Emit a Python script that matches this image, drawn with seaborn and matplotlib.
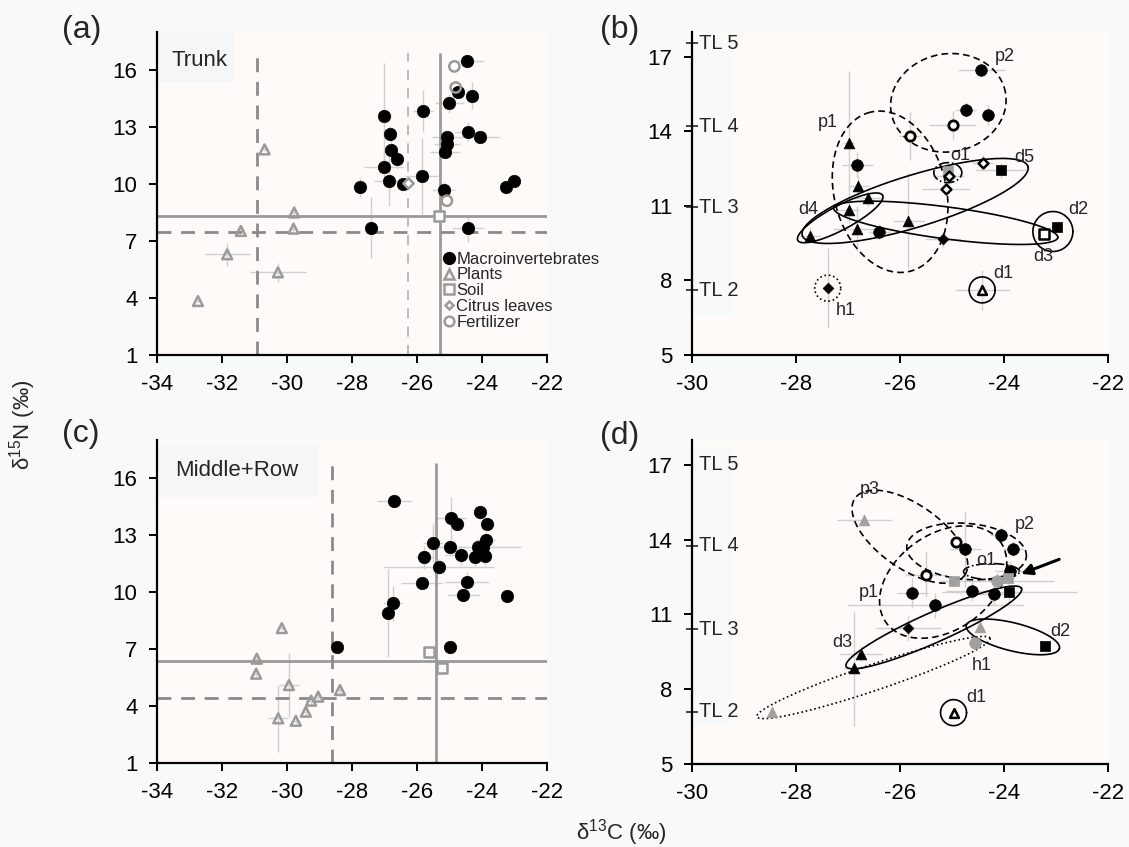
import numpy as np
import matplotlib
matplotlib.use('Agg')
import matplotlib.pyplot as plt
import seaborn as sns
from matplotlib.lines import Line2D
from matplotlib.patches import Rectangle

sns.set_style('ticks')
plt.rcParams['font.family'] = ['Liberation Sans', 'DejaVu Sans']
plt.rcParams['mathtext.fontset'] = 'custom'
plt.rcParams['mathtext.rm'] = 'Liberation Sans'

GRAY = '#9a9a9a'
ERR = '#d0d0d0'

# ---------------- panel (a): Trunk ----------------
a_macro_x = [-24.45, -24.32, -24.74, -25.00, -25.82, -27.00, -26.84, -24.42, -24.07, -25.08, -25.08, -25.14,
             -26.81, -26.62, -27.02, -26.86, -26.42, -25.86, -27.76, -25.18, -23.26, -23.00, -27.40, -24.43]
a_macro_y = [16.47, 14.65, 14.86, 14.26, 13.84, 13.56, 12.65, 12.75, 12.47, 12.45, 12.10, 11.70,
             11.80, 11.33, 10.87, 10.16, 10.02, 10.42, 9.82, 9.70, 9.86, 10.17, 7.70, 7.66]
a_macro_xerr = [0.5, 0.2, 0.2, 0.45, 0.3, 0.2, 0.2, 0.4, 0.62, 0.46, 0.4, 0.45,
                0.2, 0.2, 0.6, 0.45, 0.2, 0.5, 0.2, 0.36, 0.1, 0.1, 0.2, 0.5]
a_macro_yerr = [0.3, 0.7, 0.3, 0.5, 1.1, 2.8, 0.4, 0.5, 0.3, 0.3, 0.3, 0.3,
                0.5, 0.5, 0.7, 1.3, 0.3, 2.0, 0.5, 0.4, 0.2, 0.2, 1.6, 0.7]
a_plant_x = [-30.69, -29.78, -29.80, -31.42, -31.84, -30.28, -32.74]
a_plant_y = [11.82, 8.50, 7.65, 7.53, 6.30, 5.35, 3.84]
a_plant_xerr = [0.1, 0.1, 0.1, 0.1, 0.69, 0.85, 0.05]
a_plant_yerr = [0.1, 0.2, 0.2, 0.1, 0.6, 0.5, 0.05]
a_soil_x, a_soil_y = [-25.31], [8.33]
a_citrus_x, a_citrus_y = [-26.27], [10.03]
a_fert_x = [-24.85, -24.81, -25.08]
a_fert_y = [16.19, 15.08, 9.12]
a_solid_v, a_solid_h = -25.3, 8.33
a_dash_v, a_dash_h = -30.92, 7.45
a_thin_v = -26.27

# ---------------- panel (c): Middle+Row ----------------
c_macro_x = [-26.70, -24.07, -24.94, -24.76, -23.84, -23.89, -25.52, -24.98, -24.11, -23.96, -24.65, -24.22,
             -23.90, -25.77, -25.33, -25.85, -24.46, -24.58, -23.22, -26.75, -26.90, -28.47, -24.98]
c_macro_y = [14.80, 14.20, 13.88, 13.60, 13.60, 12.74, 12.58, 12.38, 12.35, 12.38, 11.93, 11.83,
             11.90, 11.83, 11.34, 10.45, 10.53, 9.85, 9.79, 9.40, 8.90, 7.12, 7.09]
c_macro_xerr = [0.54, 0.2, 0.46, 0.2, 0.2, 0.3, 0.3, 0.3, 1.3, 0.3, 0.5, 0.3,
                0.2, 0.3, 1.7, 0.64, 0.67, 0.51, 0.1, 0.3, 0.2, 0.2, 0.2]
c_macro_yerr = [0.3, 0.4, 1.1, 0.3, 0.3, 0.4, 1.0, 0.4, 0.3, 0.4, 0.5, 0.5,
                0.5, 0.6, 0.4, 0.3, 0.5, 0.3, 0.2, 0.9, 2.3, 0.3, 0.3]
c_plant_x = [-30.16, -30.93, -30.95, -29.94, -30.27, -29.73, -29.42, -29.26, -29.04, -28.37]
c_plant_y = [8.10, 6.49, 5.70, 5.10, 3.35, 3.22, 3.70, 4.28, 4.49, 4.84]
c_plant_xerr = [0.1, 0.1, 0.1, 0.3, 0.3, 0.1, 0.1, 0.2, 0.2, 0.1]
c_plant_yerr = [0.1, 0.1, 0.1, 1.7, 1.75, 0.1, 0.3, 0.3, 0.2, 0.3]
c_soil_x = [-25.62, -25.24]
c_soil_y = [6.82, 6.00]
c_solid_v, c_solid_h = -25.43, 6.38
c_dash_v, c_dash_h = -28.62, 4.42

# ---------------- panel (b) ----------------
b_circ_x = [-24.44, -24.74, -24.30, -26.82, -26.40]
b_circ_y = [16.49, 14.88, 14.65, 12.66, 9.97]
b_circ_xerr = [0.45, 0.2, 0.1, 0.3, 0.2]
b_circ_yerr = [0.2, 0.3, 0.4, 0.5, 0.3]
b_ocirc_x, b_ocirc_y = [-24.99, -25.81], [14.26, 13.83]
b_ocirc_xerr, b_ocirc_yerr = [0.45, 0.2], [0.55, 0.97]
b_tri_x = [-26.99, -26.80, -26.61, -26.99, -27.74, -26.83, -25.84]
b_tri_y = [13.53, 11.79, 11.31, 10.82, 9.80, 10.08, 10.41]
b_tri_xerr = [0.1, 0.2, 0.3, 0.2, 0.2, 0.45, 0.3]
b_tri_yerr = [2.9, 0.4, 0.3, 0.5, 0.3, 0.9, 1.9]
b_otri_x, b_otri_y = [-24.42], [7.62]
b_dia_x, b_dia_y = [-25.17, -27.39], [9.66, 7.69]
b_dia_xerr, b_dia_yerr = [0.34, 0.1], [0.3, 1.6]
b_odia_x, b_odia_y = [-24.41, -25.06, -25.12], [12.73, 12.19, 11.68]
b_odia_xerr, b_odia_yerr = [0.2, 0.3, 0.46], [0.3, 0.3, 0.3]
b_sq_x, b_sq_y = [-24.06, -22.99], [12.43, 10.17]
b_sq_xerr, b_sq_yerr = [0.5, 0.1], [0.3, 0.2]
b_osq_x, b_osq_y = [-23.23], [9.86]
b_gsq_x, b_gsq_y = [-25.07], [12.39]
b_tl = [7.6, 10.95, 14.2, 17.55]

# ---------------- panel (d) ----------------
d_circ_x = [-24.06, -23.82, -24.75, -23.88, -25.76, -24.62, -24.20, -25.32]
d_circ_y = [14.20, 13.63, 13.62, 12.75, 11.85, 11.95, 11.83, 11.36]
d_circ_xerr = [0.2, 0.2, 0.3, 0.3, 0.3, 0.5, 0.4, 1.7]
d_circ_yerr = [0.3, 0.3, 1.5, 0.4, 0.6, 0.4, 0.4, 0.5]
d_ocirc_x, d_ocirc_y = [-24.92, -25.50], [13.90, 12.59]
d_gcirc_x, d_gcirc_y = [-24.14, -24.56], [12.36, 9.87]
d_gsq_x, d_gsq_y = [-24.96, -23.92], [12.36, 12.45]
d_sq_x, d_sq_y = [-23.90, -23.21], [11.90, 9.75]
d_dia_x, d_dia_y = [-25.84], [10.45]
d_gtri_x, d_gtri_y = [-26.69, -24.46, -28.47], [14.80, 10.51, 7.10]
d_tri_x, d_tri_y = [-26.75, -26.88], [9.42, 8.84]
d_otri_x, d_otri_y = [-24.97], [7.06]
d_extra_x = [-25.50, -24.14, -23.90, -26.75, -26.88, -25.84, -26.69]
d_extra_y = [12.59, 12.36, 11.90, 9.42, 8.84, 10.45, 14.80]
d_extra_xerr = [0.4, 1.1, 1.3, 0.4, 0.2, 0.63, 0.53]
d_extra_yerr = [0.9, 0.3, 0.4, 0.3, 2.3, 0.5, 0.2]
d_tl = [7.1, 10.4, 13.75, 17.0]

# ellipses: (cx, cy, semi-a px, semi-b px, angle deg, linestyle)
b_ellipses = [(-25.07, 15.15, 58, 49, 10, '--'), (-26.19, 11.57, 82, 56, 104, '--'),
              (-25.08, 12.34, 14, 10, 0, '-.'), (-27.15, 10.52, 48, 12, 28, '-'),
              (-25.71, 11.2, 118, 26, 17, '-'), (-25.12, 10.32, 113, 16, -7.5, '-'),
              (-23.06, 9.97, 20, 20, 0, '-'), (-24.42, 7.62, 13, 13, 0, '-'),
              (-27.39, 7.69, 13, 13, 0, ':')]
b_labels = [('p2', -23.98, 17.02), ('p1', -27.38, 14.35), ('o1', -24.85, 13.02), ('d5', -23.6, 12.94),
            ('d4', -27.77, 10.85), ('d2', -22.58, 10.85), ('d3', -23.25, 8.95), ('d1', -24.02, 8.27),
            ('h1', -27.04, 6.81)]
d_ellipses = [(-25.81, 14.12, 67, 32, -35, '--'), (-24.72, 13.53, 60, 28, -5, '--'),
              (-24.24, 12.72, 28, 8, 0, '-.'), (-25.17, 12.3, 70, 48, 35, '--'),
              (-25.35, 10.48, 96, 15, 24, '-'), (-23.83, 10.1, 48, 14, -14, '-'),
              (-26.51, 8.47, 123, 13, 18.6, ':'), (-24.97, 7.06, 13, 13, 0, '-')]
d_labels = [('p3', -26.58, 16.0), ('p2', -23.6, 14.6), ('o1', -24.35, 13.16), ('p1', -26.6, 11.87),
            ('d2', -22.92, 10.31), ('d3', -27.1, 9.86), ('h1', -24.43, 8.94), ('d1', -24.54, 7.65)]
d_arrow = ((-22.89, 13.25), (-23.72, 12.59))


def pts(ax, x, y, marker, face, edge, s, xerr=None, yerr=None, lw=1.5, z=5):
    if xerr is not None:
        ax.errorbar(x, y, xerr=xerr, yerr=yerr, fmt='none', ecolor=ERR, elinewidth=1, zorder=1)
    sns.scatterplot(x=x, y=y, marker=marker, s=s, color=edge, facecolor=face,
                    edgecolor=edge, linewidth=lw, ax=ax, zorder=z, legend=False)


def ellipse(ax, cx, cy, a, b, ang, ls):
    t = np.linspace(0, 2 * np.pi, 300)
    th = np.deg2rad(ang)
    dx = a * np.cos(t) * np.cos(th) - b * np.sin(t) * np.sin(th)
    dy = a * np.cos(t) * np.sin(th) + b * np.sin(t) * np.cos(th)
    c = ax.transData.transform((cx, cy))
    p = ax.transData.inverted().transform(np.column_stack([c[0] + dx, c[1] + dy]))
    kw = {'dashes': (4, 2.5)} if ls == '--' else {}
    ax.plot(p[:, 0], p[:, 1], color='black', ls=ls, lw=1.2, zorder=3, **kw)


def style(ax, xlim, ylim, xt, yt):
    ax.set_facecolor('#fdfaf8')
    ax.set_xlim(*xlim)
    ax.set_ylim(*ylim)
    ax.set_xticks(xt)
    ax.set_yticks(yt)
    ax.set_xticklabels([str(v) for v in xt])
    sns.despine(ax=ax)
    for sp in ['left', 'bottom']:
        ax.spines[sp].set_linewidth(1.6)
        ax.spines[sp].set_color('black')
    ax.tick_params(labelsize=16, direction='out', length=6, width=1.4, pad=8, colors='black')
    ax.set_xlabel('')
    ax.set_ylabel('')


fig = plt.figure(figsize=(11.29, 8.47), dpi=100, facecolor='#f8f9f9')
W, H = 1129, 847
ax_a = fig.add_axes([157 / W, 1 - 355 / H, 390 / W, 323 / H])
ax_b = fig.add_axes([692 / W, 1 - 355 / H, 416 / W, 323 / H])
ax_c = fig.add_axes([157 / W, 1 - 763 / H, 390 / W, 323 / H])
ax_d = fig.add_axes([692 / W, 1 - 764 / H, 416 / W, 324 / H])

left_xt = [-34, -32, -30, -28, -26, -24, -22]
right_xt = [-30, -28, -26, -24, -22]
style(ax_a, (-34, -22), (1, 18), left_xt, [1, 4, 7, 10, 13, 16])
style(ax_c, (-34, -22), (1, 18), left_xt, [1, 4, 7, 10, 13, 16])
style(ax_b, (-30, -22), (5, 18), right_xt, [5, 8, 11, 14, 17])
style(ax_d, (-30, -22), (5, 18), right_xt, [5, 8, 11, 14, 17])

# ---- (a)
ax = ax_a
ax.vlines(a_solid_v, 1, 16.9, color=GRAY, lw=2, zorder=2)
ax.axhline(a_solid_h, color=GRAY, lw=2, zorder=2)
ax.vlines(a_dash_v, 1, 16.9, color='#8a8a8a', lw=2, linestyles=(0, (5, 3.5)), zorder=2)
ax.axhline(a_dash_h, color='#8a8a8a', lw=2, ls=(0, (5, 3.5)), zorder=2)
ax.vlines(a_thin_v, 1, 16.9, color='#b0b0b0', lw=1.2, linestyles=(0, (6, 5)), zorder=2)
pts(ax, a_macro_x, a_macro_y, 'o', 'black', 'black', 80, a_macro_xerr, a_macro_yerr, lw=0.5)
pts(ax, a_plant_x, a_plant_y, '^', 'none', GRAY, 50, a_plant_xerr, a_plant_yerr, lw=1.8)
pts(ax, a_soil_x, a_soil_y, 's', '#fdfaf8', GRAY, 60, lw=1.8)
pts(ax, a_citrus_x, a_citrus_y, 'D', '#fdfaf8', GRAY, 28, lw=1.8)
pts(ax, a_fert_x, a_fert_y, 'o', 'none', GRAY, 55, lw=1.8, z=6)
ax.add_patch(Rectangle((0.0025, (355 - 82) / 323), 76 / 390, 52 / 323, transform=ax.transAxes,
                       fc='#f4f6f7', ec='none', zorder=0.5))
ax.text(14 / 390, (355 - 61) / 323, 'Trunk', fontsize=16, va='center', transform=ax.transAxes)
handles = [Line2D([], [], ls='', marker='o', color='black', ms=8.5),
           Line2D([], [], ls='', marker='^', mfc='none', mec=GRAY, mew=1.8, ms=7),
           Line2D([], [], ls='', marker='s', mfc='none', mec=GRAY, mew=1.8, ms=7),
           Line2D([], [], ls='', marker='D', mfc='none', mec=GRAY, mew=1.8, ms=4.5),
           Line2D([], [], ls='', marker='o', mfc='none', mec=GRAY, mew=1.8, ms=7)]
leg = ax.legend(handles, ['Macroinvertebrates', 'Plants', 'Soil', 'Citrus leaves', 'Fertilizer'],
                loc='upper left', bbox_to_anchor=(0.735, 0.32), frameon=False, fontsize=12,
                handlelength=0.6, handletextpad=0.15, labelspacing=0.05, borderpad=0, borderaxespad=0)
leg.set_zorder(7)

# ---- (c)
ax = ax_c
ax.vlines(c_solid_v, 1, 16.8, color=GRAY, lw=2, zorder=2)
ax.axhline(c_solid_h, color=GRAY, lw=2, zorder=2)
ax.vlines(c_dash_v, 1, 16.8, color='#8a8a8a', lw=2, linestyles=(0, (5, 3.5)), zorder=2)
ax.axhline(c_dash_h, color='#8a8a8a', lw=2, ls=(0, (5, 3.5)), zorder=2)
pts(ax, c_macro_x, c_macro_y, 'o', 'black', 'black', 80, c_macro_xerr, c_macro_yerr, lw=0.5)
pts(ax, c_plant_x, c_plant_y, '^', 'none', GRAY, 50, c_plant_xerr, c_plant_yerr, lw=1.8)
pts(ax, c_soil_x, c_soil_y, 's', '#fdfaf8', GRAY, 60, lw=1.8)
ax.add_patch(Rectangle((0.0025, (763 - 497) / 323), 160 / 390, 52 / 323, transform=ax.transAxes,
                       fc='#f4f6f7', ec='none', zorder=0.5))
ax.text(18 / 390, (763 - 470) / 323, 'Middle+Row', fontsize=16, va='center', transform=ax.transAxes)

# ---- (b)
ax = ax_b
pts(ax, b_circ_x, b_circ_y, 'o', 'black', 'black', 70, b_circ_xerr, b_circ_yerr, lw=0.5)
pts(ax, b_ocirc_x, b_ocirc_y, 'o', 'white', 'black', 45, b_ocirc_xerr, b_ocirc_yerr, lw=2)
pts(ax, b_tri_x, b_tri_y, '^', 'black', 'black', 60, b_tri_xerr, b_tri_yerr, lw=0.5)
pts(ax, b_otri_x, b_otri_y, '^', 'white', 'black', 40, [0.53], [0.8], lw=1.8)
pts(ax, b_gsq_x, b_gsq_y, 's', '#a0a0a0', '#a0a0a0', 45, lw=0.5, z=4)
pts(ax, b_dia_x, b_dia_y, 'D', 'black', 'black', 30, b_dia_xerr, b_dia_yerr, lw=0.5)
pts(ax, b_odia_x, b_odia_y, 'D', 'white', 'black', 25, b_odia_xerr, b_odia_yerr, lw=1.8)
pts(ax, b_sq_x, b_sq_y, 's', 'black', 'black', 60, b_sq_xerr, b_sq_yerr, lw=0.5)
pts(ax, b_osq_x, b_osq_y, 's', 'white', 'black', 45, lw=1.8)
for e in b_ellipses:
    ellipse(ax, *e)
for name, x, y in b_labels:
    ax.text(x, y, name, fontsize=13, ha='center', va='center', zorder=7)

# ---- (d)
ax = ax_d
ax.errorbar(d_extra_x, d_extra_y, xerr=d_extra_xerr, yerr=d_extra_yerr,
            fmt='none', ecolor=ERR, elinewidth=1, zorder=1)
pts(ax, d_circ_x, d_circ_y, 'o', 'black', 'black', 70, d_circ_xerr, d_circ_yerr, lw=0.5)
pts(ax, d_ocirc_x, d_ocirc_y, 'o', 'white', 'black', 45, lw=2)
pts(ax, d_gcirc_x, d_gcirc_y, 'o', '#a0a0a0', '#a0a0a0', 70, lw=0.5)
pts(ax, d_gsq_x, d_gsq_y, 's', '#a0a0a0', '#a0a0a0', 55, lw=0.5)
pts(ax, d_sq_x, d_sq_y, 's', 'black', 'black', 60, lw=0.5)
pts(ax, d_dia_x, d_dia_y, 'D', 'black', 'black', 30, lw=0.5)
pts(ax, d_gtri_x, d_gtri_y, '^', '#a0a0a0', '#a0a0a0', 60, lw=0.5)
pts(ax, d_tri_x, d_tri_y, '^', 'black', 'black', 60, lw=0.5)
pts(ax, d_otri_x, d_otri_y, '^', 'white', 'black', 40, lw=1.8)
for e in d_ellipses:
    ellipse(ax, *e)
for name, x, y in d_labels:
    ax.text(x, y, name, fontsize=13, ha='center', va='center', zorder=7)
ax.annotate('', xy=d_arrow[1], xytext=d_arrow[0],
            arrowprops=dict(arrowstyle='-|>', color='black', lw=2.2, mutation_scale=16), zorder=8)

# trophic level labels
for ax, tl in [(ax_b, b_tl), (ax_d, d_tl)]:
    ax.add_patch(Rectangle((0.003, 0.12), 40 / 416, 0.86, transform=ax.transAxes,
                           fc='#f8f9fa', ec='none', zorder=0.5))
    ax.set_yticks(tl, minor=True)
    ax.tick_params(axis='y', which='minor', direction='inout', length=8, width=1.2, left=True)
    for i, v in enumerate(tl):
        ax.text(0.018, v, 'TL %d' % (i + 2), transform=ax.get_yaxis_transform(),
                fontsize=14.5, va='center', ha='left')

# panel letters and axis titles
for lab, x, y in [('(a)', 82, 30), ('(b)', 620, 30), ('(c)', 81, 434), ('(d)', 620, 436)]:
    fig.text(x / W, 1 - y / H, lab, fontsize=23, ha='center', va='center')
fig.text(23 / W, 1 - 425 / H, r'δ$^{15}$N (‰)', rotation=90, fontsize=16, ha='center', va='center')
fig.text(621 / W, 1 - 833 / H, r'δ$^{13}$C (‰)', fontsize=16, ha='center', va='center')

fig.savefig('out.png', dpi=100, facecolor=fig.get_facecolor())
